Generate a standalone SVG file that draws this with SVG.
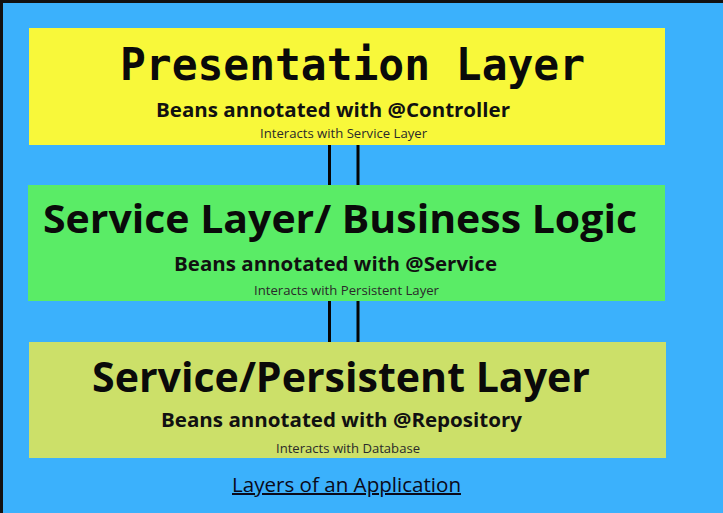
<svg xmlns="http://www.w3.org/2000/svg" width="723" height="513" viewBox="0 0 723 513">
<style>
.title{font-family:"Open Sans","Noto Sans",sans-serif;font-weight:bold;fill:#0a0a0a;text-anchor:middle}
.mono{font-family:"DejaVu Sans Mono","Liberation Mono",monospace;font-weight:bold;fill:#0a0a0a;text-anchor:middle}
.sub{font-family:"Open Sans","Noto Sans",sans-serif;font-weight:bold;fill:#111;text-anchor:middle}
.small{font-family:"Open Sans","Noto Sans",sans-serif;fill:#2a2a2a;text-anchor:middle}
.conn{stroke:#050505;stroke-width:3}
</style>
<rect x="0" y="0" width="723" height="513" fill="#3bb1fc"/>
<rect x="0" y="0" width="723" height="3" fill="#111"/>
<rect x="0" y="0" width="3" height="513" fill="#111"/>
<g id="connectors">
<line class="conn" x1="329.5" y1="145" x2="329.5" y2="185"/>
<line class="conn" x1="358" y1="145" x2="358" y2="185"/>
<line class="conn" x1="329.5" y1="301" x2="329.5" y2="342"/>
<line class="conn" x1="358" y1="301" x2="358" y2="342"/>
</g>
<g id="presentation">
<rect x="29" y="28" width="636" height="117" fill="#f8f83a"/>
<text class="mono" x="352.5" y="80" font-size="44" textLength="465" lengthAdjust="spacingAndGlyphs">Presentation Layer</text>
<text class="sub" x="333" y="117" font-size="19.5" textLength="354" lengthAdjust="spacingAndGlyphs">Beans annotated with @Controller</text>
<text class="small" x="343.5" y="138" font-size="13.5" textLength="167" lengthAdjust="spacingAndGlyphs">Interacts with Service Layer</text>
</g>
<g id="service">
<rect x="28" y="185" width="637" height="116" fill="#5aec66"/>
<text class="title" x="340" y="233" font-size="39.5" textLength="594" lengthAdjust="spacingAndGlyphs">Service Layer/ Business Logic</text>
<text class="sub" x="335.5" y="271" font-size="19.5" textLength="323" lengthAdjust="spacingAndGlyphs">Beans annotated with @Service</text>
<text class="small" x="346.5" y="295" font-size="13.5" textLength="185" lengthAdjust="spacingAndGlyphs">Interacts with Persistent Layer</text>
</g>
<g id="persistent">
<rect x="29" y="342" width="637" height="116" fill="#cce069"/>
<text class="title" x="341" y="392" font-size="41.5" textLength="498" lengthAdjust="spacingAndGlyphs">Service/Persistent Layer</text>
<text class="sub" x="341.5" y="427" font-size="19.5" textLength="361" lengthAdjust="spacingAndGlyphs">Beans annotated with @Repository</text>
<text class="small" x="348" y="453" font-size="13.5" textLength="144" lengthAdjust="spacingAndGlyphs">Interacts with Database</text>
</g>
<g id="caption">
<text class="small" x="346.5" y="492" font-size="20" style="fill:#0a0a1a" text-decoration="underline" textLength="229" lengthAdjust="spacingAndGlyphs">Layers of an Application</text>
</g>
</svg>
